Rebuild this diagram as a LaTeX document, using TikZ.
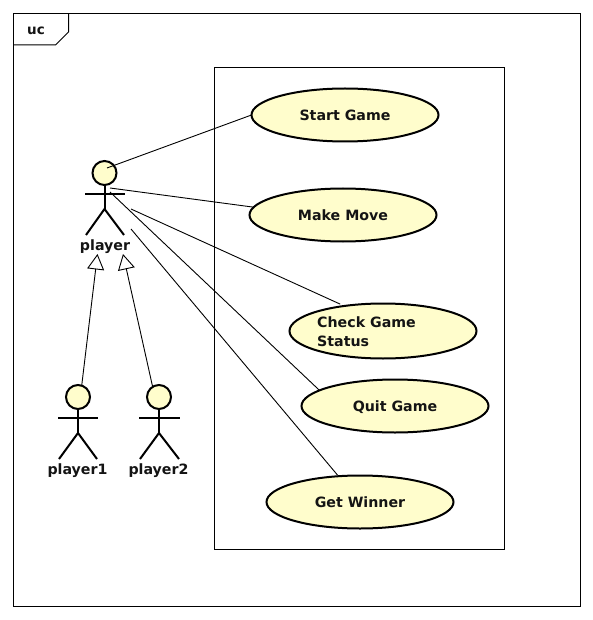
\documentclass[tikz,border=0pt]{standalone}
\usepackage{fontspec}
\setmainfont{DejaVu Sans}
\usetikzlibrary{arrows.meta,shapes.geometric}
\definecolor{ucfill}{RGB}{255,253,204}
\tikzset{
  lbl/.style={font=\bfseries\fontsize{14.2}{19}\selectfont,inner sep=0pt,text=black!92},
  usecase/.style={ellipse,draw=black,line width=2pt,fill=ucfill,minimum width=187pt,minimum height=53pt,inner sep=0pt,outer sep=0pt,lbl,text height=11.5pt,text depth=0pt},
  head/.style={circle,draw=black,line width=2pt,fill=ucfill,minimum size=24pt,inner sep=0pt,outer sep=0pt},
  limb/.style={draw=black,line width=2pt},
  assoc/.style={draw=black,line width=0.9pt},
  gen/.style={draw=black,line width=0.9pt,-{Triangle[open,length=15.5pt,width=17pt,line width=0.9pt]}},
  box/.style={draw=black,line width=1pt}
}
\begin{document}
\begin{tikzpicture}[x=1pt,y=-1pt]
\useasboundingbox (0,0) rectangle (593,620);
\fill[white] (0,0) rectangle (593,620);
% frame
\draw[box] (13.5,13.5) rectangle (580.5,606.5);
\draw[box] (13.5,45) -- (55.5,45) -- (68.5,32) -- (68.5,13.5);
\node[lbl,font=\bfseries\fontsize{13.5}{15}\selectfont] (uc) at (36,30.5) {uc};
% system boundary
\draw[box] (214.5,67.5) rectangle (504.5,549.5);
% use cases
\node[usecase] (start) at (345,115) {Start Game};
\node[usecase] (move) at (343,215) {Make Move};
\node[usecase,minimum height=55pt] (check) at (383,331) {};
\node[lbl,align=left,anchor=west] (checktxt) at (317,331.5) {Check Game\\Status};
\node[usecase] (quit) at (395,406) {Quit Game};
\node[usecase] (winner) at (360,502) {Get Winner};
% actor: player
\node[head] (p) at (104.5,173) {};
\coordinate (phip) at (104.5,209);
\draw[limb] (p.south) -- (phip);
\draw[limb] (85,194) -- (125,194);
\draw[limb] (86,235) -- (phip) -- (124,235);
\node[lbl] (plabel) at (105,247) {player};
% actor: player1
\node[head] (pa) at (78,397) {};
\coordinate (pahip) at (78,433);
\draw[limb] (pa.south) -- (pahip);
\draw[limb] (58,418) -- (98,418);
\draw[limb] (59,459) -- (pahip) -- (97,459);
\node[lbl] (palabel) at (77.5,471) {player1};
% actor: player2
\node[head] (pb) at (159,397) {};
\coordinate (pbhip) at (159,433);
\draw[limb] (pb.south) -- (pbhip);
\draw[limb] (139,418) -- (180,418);
\draw[limb] (140,459) -- (pbhip) -- (179,459);
\node[lbl] (pblabel) at (158.5,471) {player2};
% associations
\coordinate (a1) at (107,168);
\coordinate (a2) at (110,188);
\coordinate (a3) at (131,209);
\coordinate (a4) at (110,192);
\coordinate (a5) at (131,229);
\draw[assoc] (a1) -- (start.180);
\draw[assoc] (a2) -- (move.175);
\draw[assoc] (a3) -- ([xshift=-3pt,yshift=2pt]check.148.6);
\draw[assoc] (a4) -- ([xshift=-1pt]quit.168.7);
\draw[assoc] (a5) -- ([xshift=-1.5pt,yshift=1pt]winner.129);
% generalisations
\coordinate (g1) at (97.5,254);
\coordinate (g2) at (123,254);
\draw[gen] (pa.72) -- (g1);
\draw[gen] (pb.122) -- (g2);
\end{tikzpicture}
\end{document}
